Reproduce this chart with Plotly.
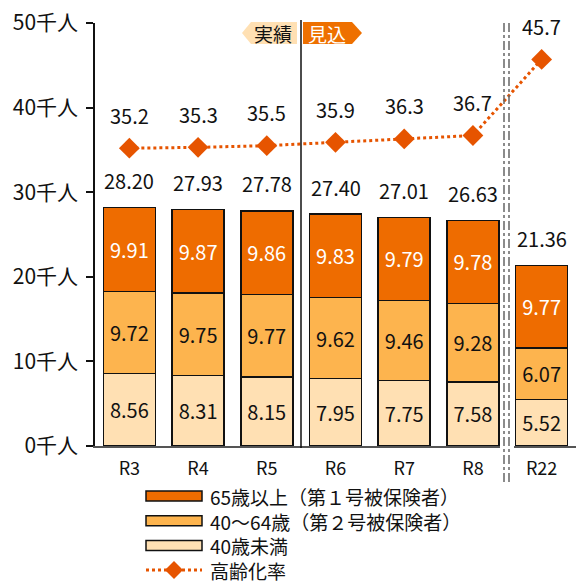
import plotly.graph_objects as go

categories = ["R3", "R4", "R5", "R6", "R7", "R8", "R22"]
under40 = [8.56, 8.31, 8.15, 7.95, 7.75, 7.58, 5.52]
age40_64 = [9.72, 9.75, 9.77, 9.62, 9.46, 9.28, 6.07]
over65 = [9.91, 9.87, 9.86, 9.83, 9.79, 9.78, 9.77]
totals = [28.20, 27.93, 27.78, 27.40, 27.01, 26.63, 21.36]
aging_rate = [35.2, 35.3, 35.5, 35.9, 36.3, 36.7, 45.7]
y_tickvals = [0, 10, 20, 30, 40, 50]
y_ticktext = ["0千人", "10千人", "20千人", "30千人", "40千人", "50千人"]

series_names = ["40歳未満", "40～64歳（第２号被保険者）", "65歳以上（第１号被保険者）"]
line_name = "高齢化率"

FONT = "Noto Sans CJK JP"
C_LIGHT = "#FFE0B3"
C_MID = "#FDB44E"
C_DARK = "#EE6C00"
C_LINE = "#E65400"

W, H = 576, 587
L, R, T, B = 95, 0, 23, 141
PW, PH = W - L - R, H - T - B


def px(x):
    return (x - L) / PW


def py(y):
    return (H - B - y) / PH


fig = go.Figure()
for vals, name, col, tcol in [
    (under40, series_names[0], C_LIGHT, "#111"),
    (age40_64, series_names[1], C_MID, "#111"),
    (over65, series_names[2], C_DARK, "white"),
]:
    fig.add_trace(go.Bar(
        x=categories, y=vals, name=name,
        marker=dict(color=col, line=dict(color="#111", width=1.5)),
        texttemplate="%{y:.2f}", textposition="inside", insidetextanchor="middle",
        textangle=0, constraintext="none",
        textfont=dict(family=FONT, size=20, color=tcol),
        showlegend=False, hoverinfo="skip",
    ))

fig.add_trace(go.Scatter(
    x=categories, y=aging_rate, name=line_name, mode="lines+markers",
    line=dict(color=C_LINE, width=3, dash="dot"),
    marker=dict(symbol="diamond", size=16, color=C_LINE),
    showlegend=False,
))

annotations = []
for c, t in zip(categories, totals):
    annotations.append(dict(x=c, y=t, text=f"{t:.2f}", showarrow=False, yshift=27,
                            yanchor="middle",
                            font=dict(family=FONT, size=20, color="#111")))
for c, r in zip(categories, aging_rate):
    annotations.append(dict(x=c, y=r, text=f"{r:.1f}", showarrow=False, yshift=33,
                            yanchor="middle",
                            font=dict(family=FONT, size=20, color="#111")))

shapes = []
# separator between actual and forecast
shapes.append(dict(type="line", xref="paper", yref="paper", x0=px(301), x1=px(301),
                   y0=py(448), y1=py(20), line=dict(color="#111", width=1.5), layer="above"))
# break in axis near R22
shapes.append(dict(type="rect", xref="paper", yref="paper", x0=px(500), x1=px(514),
                   y0=py(449), y1=py(443), fillcolor="white", line=dict(width=0), layer="above"))
for xx in (504, 509):
    shapes.append(dict(type="line", xref="paper", yref="paper", x0=px(xx), x1=px(xx),
                       y0=py(482), y1=py(20), line=dict(color="#666", width=1.5, dash="dashdot"),
                       layer="above"))


def path(pts):
    return "M " + " L ".join(f"{px(a):.5f},{py(b):.5f}" for a, b in pts) + " Z"


shapes.append(dict(type="path", xref="paper", yref="paper",
                   path=path([(242, 33), (251, 22), (297, 22), (297, 44), (251, 44)]),
                   fillcolor=C_LIGHT, line=dict(width=0), layer="above"))
shapes.append(dict(type="path", xref="paper", yref="paper",
                   path=path([(303, 22), (352, 22), (362, 33), (352, 44), (303, 44)]),
                   fillcolor="#EE7000", line=dict(width=0), layer="above"))
annotations.append(dict(xref="paper", yref="paper", x=px(273), y=py(33), text="実績",
                        yanchor="middle", xanchor="center",
                        showarrow=False, font=dict(family=FONT, size=19, color="#111")))
annotations.append(dict(xref="paper", yref="paper", x=px(327), y=py(33), text="見込",
                        yanchor="middle", xanchor="center",
                        showarrow=False, font=dict(family=FONT, size=19, color="white")))

# manual legend (one text block, line height 1.3em)
LEG_FS = 19
LH = 1.3 * LEG_FS
row_y = [496 + i * LH for i in range(4)]
for col, yy in zip([C_DARK, C_MID, C_LIGHT], row_y[:3]):
    shapes.append(dict(type="rect", xref="paper", yref="paper", x0=px(146), x1=px(202),
                       y0=py(yy + 5), y1=py(yy - 5), fillcolor=col,
                       line=dict(color="#111", width=1.5)))
yy = row_y[3]
shapes.append(dict(type="line", xref="paper", yref="paper", x0=px(146), x1=px(202),
                   y0=py(yy), y1=py(yy), line=dict(color=C_LINE, width=3, dash="dot")))
shapes.append(dict(type="path", xref="paper", yref="paper",
                   path=path([(165, yy), (174, yy - 9), (183, yy), (174, yy + 9)]),
                   fillcolor=C_LINE, line=dict(width=0)))
legend_text = "<br>".join([series_names[2], series_names[1], series_names[0], line_name])
annotations.append(dict(xref="paper", yref="paper", x=px(208), y=py((row_y[0] + row_y[3]) / 2),
                        text=legend_text, align="left",
                        xanchor="left", yanchor="middle", showarrow=False,
                        font=dict(family=FONT, size=LEG_FS, color="#111")))

fig.update_layout(
    width=W, height=H, margin=dict(l=L, r=R, t=T, b=B),
    barmode="stack", bargap=0.244,
    plot_bgcolor="white", paper_bgcolor="white",
    font=dict(family=FONT, color="#111"),
    showlegend=False,
    annotations=annotations, shapes=shapes,
    xaxis=dict(type="category", range=[-0.5, 6.5], showline=True, linecolor="#555", linewidth=1.5,
               ticks="", showgrid=False, tickfont=dict(family=FONT, size=18, color="#111"),
               ticklabelstandoff=6),
    yaxis=dict(range=[0, 50], tickvals=y_tickvals, ticktext=y_ticktext, showline=True,
               linecolor="#111", linewidth=1.5, ticks="outside", ticklen=7, tickwidth=1.5,
               tickcolor="#111", showgrid=False, zeroline=False,
               tickfont=dict(family=FONT, size=21, color="#111"), ticklabelstandoff=4),
)

fig.write_html("out.html")
